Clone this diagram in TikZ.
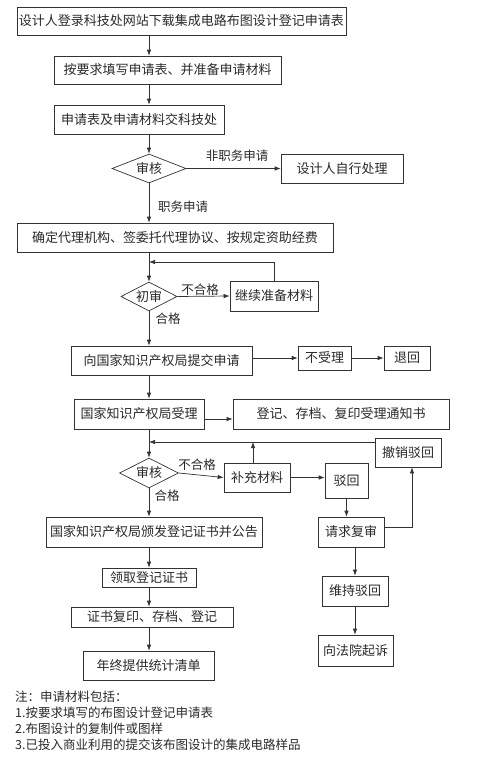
\documentclass[tikz,border=0pt]{standalone}
\usepackage{fontspec}
\setmainfont{Noto Sans CJK SC}
\usetikzlibrary{shapes.geometric,arrows.meta}
\definecolor{lc}{HTML}{333333}
\definecolor{tc}{HTML}{2A2A2A}
\begin{document}
\begin{tikzpicture}[x=1pt,y=-1pt,
  box/.style={draw=lc, line width=0.7pt, inner sep=0pt, text=tc, font=\fontsize{13}{15}\selectfont},
  dia/.style={diamond, aspect=2.5, draw=lc, line width=0.7pt, inner sep=0pt, text=tc, font=\fontsize{13}{15}\selectfont},
  arr/.style={draw=lc, line width=0.7pt, -{Latex[length=6pt,width=4.5pt]}},
  lbl/.style={text=tc, font=\fontsize{12.5}{14}\selectfont, inner sep=0pt}]
\useasboundingbox (0,0) rectangle (500,758);
\fill[white] (0,0) rectangle (500,758);
% left column
\node[box, minimum width=329pt, minimum height=28pt] (b1) at (181.5,21) {设计人登录科技处网站下载集成电路布图设计登记申请表};
\node[box, minimum width=227pt, minimum height=28pt] (b2) at (167.5,70) {按要求填写申请表、并准备申请材料};
\node[box, minimum width=170pt, minimum height=29pt] (b3) at (139,119.5) {申请表及申请材料交科技处};
\node[dia, minimum width=74pt, minimum height=29pt] (d1) at (149,168.5) {审核};
\node[box, minimum width=122pt, minimum height=29pt] (self) at (342,168.5) {设计人自行处理};
\node[box, minimum width=316pt, minimum height=29pt] (b4) at (175,237.5) {确定代理机构、签委托代理协议、按规定资助经费};
\node[dia, minimum width=56pt, minimum height=29pt] (d2) at (149,296.5) {初审};
\node[box, minimum width=88pt, minimum height=30pt] (cont) at (274,296) {继续准备材料};
\node[box, minimum width=181pt, minimum height=29pt] (sub) at (161.5,360.5) {向国家知识产权局提交申请};
\node[box, minimum width=53pt, minimum height=24pt] (bs) at (324.5,358) {不受理};
\node[box, minimum width=46pt, minimum height=24pt] (th) at (407,358) {退回};
\node[box, minimum width=130pt, minimum height=30pt] (acc) at (139,414) {国家知识产权局受理};
\node[box, minimum width=216pt, minimum height=30pt] (reg) at (341,414) {登记、存档、复印受理通知书};
\node[box, minimum width=66pt, minimum height=29pt] (cx) at (408,452.5) {撤销驳回};
\node[dia, minimum width=59pt, minimum height=30pt] (d3) at (149,473) {审核};
\node[box, minimum width=66pt, minimum height=29pt] (bc) at (257,477.5) {补充材料};
\node[box, minimum width=43pt, minimum height=35pt] (bh) at (346.5,480.5) {驳回};
\node[box, minimum width=216pt, minimum height=30pt] (iss) at (154,532) {国家知识产权局颁发登记证书并公告};
\node[box, minimum width=66pt, minimum height=30pt] (fs) at (351,532) {请求复审};
\node[box, minimum width=94pt, minimum height=19pt] (lq) at (149,577.5) {领取登记证书};
\node[box, minimum width=162pt, minimum height=20pt] (zs) at (152,617) {证书复印、存档、登记};
\node[box, minimum width=131pt, minimum height=29pt] (nz) at (148.5,665.5) {年终提供统计清单};
\node[box, minimum width=66pt, minimum height=30pt] (wc) at (355,591) {维持驳回};
\node[box, minimum width=75pt, minimum height=31pt] (qs) at (355.5,650.5) {向法院起诉};
% labels
\node[lbl] (l1) at (237,156) {非职务申请};
\node[lbl] (l2) at (183,207) {职务申请};
\node[lbl] (l3) at (200,290) {不合格};
\node[lbl] (l4) at (168,319) {合格};
\node[lbl] (l5) at (197,465) {不合格};
\node[lbl] (l6) at (167,496) {合格};
% junctions
\coordinate (j1) at (149,262);
\coordinate (j2) at (149,442);
% main line
\draw[arr] (b1.south -| d1.center) -- (b2.north -| d1.center);
\draw[arr] (b2.south -| d1.center) -- (b3.north -| d1.center);
\draw[arr] (b3.south -| d1.center) -- (d1.north);
\draw[arr] (d1.south) -- (b4.north -| d1.center);
\draw[arr] (b4.south -| d1.center) -- (d2.north);
\draw[arr] (d2.south) -- (sub.north -| d1.center);
\draw[arr] (sub.south -| d1.center) -- (acc.north -| d1.center);
\draw[arr] (acc.south -| d1.center) -- (d3.north);
\draw[arr] (d3.south) -- (iss.north -| d3.center);
\draw[arr] (iss.south -| d3.center) -- (lq.north -| d3.center);
\draw[arr] (lq.south -| d3.center) -- (zs.north -| d3.center);
\draw[arr] (zs.south -| d3.center) -- (nz.north -| d3.center);
% branches
\draw[arr] (d1.east) -- (self.west);
\draw[arr] (d2.east) -- (cont.west);
\draw[arr] (cont.north) |- (j1);
\draw[arr] (sub.east |- bs.west) -- (bs.west);
\draw[arr] (bs.east) -- (th.west);
\draw[arr] ([yshift=-5pt]acc.east) -- ([yshift=-5pt]acc.east -| reg.west);
\draw[arr] (d3.east) -- (bc.west);
\draw[arr] (cx.west |- j2) -- (j2);
\draw[arr] ([xshift=-4pt]bc.north) -- ([xshift=-4pt]bc.north |- j2);
\draw[arr] (bc.east) -- (bc.east -| bh.west);
\draw[arr] (bh.south) -- (bh.south |- fs.north);
\draw[arr] ([yshift=5pt]fs.east) -| ([xshift=4pt]cx.south);
\draw[arr] (fs.south -| wc.north) -- (wc.north);
\draw[arr] (wc.south) -- (wc.south |- qs.north);
% note
\node[anchor=north west, align=left, text=tc, font=\fontsize{12.5}{16}\selectfont, inner sep=0pt] (note) at (15,691) {注：申请材料包括：\\1.按要求填写的布图设计登记申请表\\2.布图设计的复制件或图样\\3.已投入商业利用的提交该布图设计的集成电路样品};
\end{tikzpicture}
\end{document}
